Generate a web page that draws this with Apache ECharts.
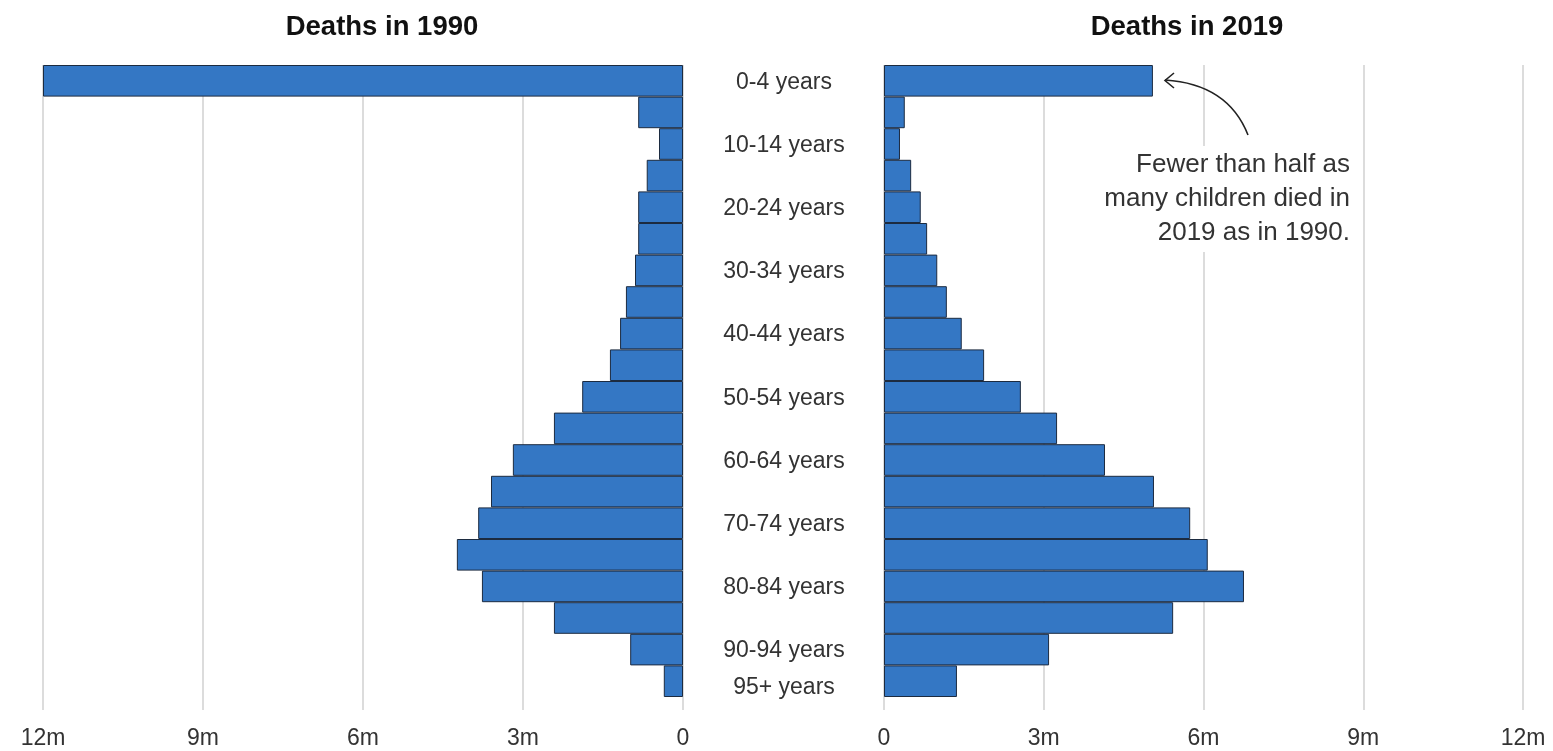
<!DOCTYPE html>
<html>
<head>
<meta charset="utf-8">
<script src="https://cdn.jsdelivr.net/npm/echarts@6/dist/echarts.min.js"></script>
<style>
html,body{margin:0;padding:0;background:#fff;}
#chart{width:1553px;height:751px;}
</style>
</head>
<body>
<div id="chart"></div>
<script>
const ageGroups = ['0-4 years','5-9 years','10-14 years','15-19 years','20-24 years','25-29 years','30-34 years','35-39 years','40-44 years','45-49 years','50-54 years','55-59 years','60-64 years','65-69 years','70-74 years','75-79 years','80-84 years','85-89 years','90-94 years','95+ years'];
const deaths1990 = [12.0,0.84,0.45,0.68,0.84,0.84,0.90,1.07,1.18,1.37,1.89,2.42,3.19,3.60,3.84,4.24,3.77,2.42,0.99,0.36];
const deaths2019 = [5.05,0.39,0.30,0.51,0.69,0.81,1.00,1.18,1.46,1.88,2.57,3.25,4.15,5.07,5.75,6.08,6.76,5.43,3.10,1.37];
const axisTicks = [0,3,6,9,12];
const title1990 = 'Deaths in 1990';
const title2019 = 'Deaths in 2019';
const noteText = 'Fewer than half as\nmany children died in\n2019 as in 1990.';

const FONT = '"Liberation Sans", Arial, Helvetica, sans-serif';
const BAR = '#3477c4';
const EDGE = '#1c2b40';
const tickStep = axisTicks[1] - axisTicks[0];
const tickMax = axisTicks[axisTicks.length - 1];

const chart = echarts.init(document.getElementById('chart'), null, {renderer:'canvas'});

function valueAxis(gridIndex, inverse, showLines) {
  return {
    type:'value', gridIndex, inverse, min:0, max:tickMax, interval:tickStep,
    axisLine:{show:false}, axisTick:{show:false},
    splitLine:{show:showLines, lineStyle:{color:'#dcdcdc', width:2}},
    axisLabel:{show:showLines, color:'#333', fontFamily:FONT, fontSize:23, margin:17,
      showMinLabel:true, showMaxLabel:true,
      formatter:v => v === 0 ? '0' : v + 'm'}
  };
}

const option = {
  backgroundColor:'#fff',
  animation:false,
  title:[
    {text:title1990, left:377, top:8, textAlign:'center',
     textStyle:{fontFamily:FONT, fontSize:27.5, fontWeight:'bold', color:'#111'}},
    {text:title2019, left:1182, top:8, textAlign:'center',
     textStyle:{fontFamily:FONT, fontSize:27.5, fontWeight:'bold', color:'#111'}}
  ],
  grid:[
    {left:43, width:640, top:65, height:632},
    {left:884, width:639, top:65, height:632},
    {left:43, width:640, top:65, height:645},
    {left:884, width:639, top:65, height:645}
  ],
  xAxis:[
    valueAxis(0, true, false),
    valueAxis(1, false, false),
    valueAxis(2, true, true),
    valueAxis(3, false, true)
  ],
  yAxis:[
    {type:'category', gridIndex:0, data:ageGroups, inverse:true, position:'right',
     axisLine:{show:false}, axisTick:{show:false}, splitLine:{show:false},
     axisLabel:{margin:101, align:'center', color:'#333', fontFamily:FONT, fontSize:23,
       interval:(i) => i % 2 === 0 || i === ageGroups.length - 1,
       formatter:(v, i) => i === ageGroups.length - 1 ? '{low|' + v + '}' : '{n|' + v + '}',
       rich:{
         n:{padding:[3,0,0,0], color:'#333', fontFamily:FONT, fontSize:23},
         low:{padding:[12,0,0,0], color:'#333', fontFamily:FONT, fontSize:23}}}},
    {type:'category', gridIndex:1, data:ageGroups, inverse:true,
     axisLine:{show:false}, axisTick:{show:false}, axisLabel:{show:false}, splitLine:{show:false}},
    {type:'value', gridIndex:2, show:false, min:0, max:1},
    {type:'value', gridIndex:3, show:false, min:0, max:1}
  ],
  series:[
    {type:'bar', xAxisIndex:0, yAxisIndex:0, data:deaths1990, barCategoryGap:'0%',
     itemStyle:{color:BAR, borderColor:EDGE, borderWidth:1}, z:3},
    {type:'bar', xAxisIndex:1, yAxisIndex:1, data:deaths2019, barCategoryGap:'0%',
     itemStyle:{color:BAR, borderColor:EDGE, borderWidth:1}, z:3}
  ],
  graphic:[
    {type:'text', right:1553-1352, top:146, z:10,
     style:{text:noteText, font:'26px ' + FONT, fill:'#333', textAlign:'right', lineHeight:34,
            backgroundColor:'#fff', padding:[2,2,2,2]}},
    {type:'bezierCurve', shape:{x1:1248, y1:135, cpx1:1228, cpy1:84, x2:1165, y2:80}, z:11,
     style:{stroke:'#222', lineWidth:1.6, fill:null}},
    {type:'polyline', shape:{points:[[1174,73],[1165,80.5],[1174,88]]}, z:11,
     style:{stroke:'#222', lineWidth:1.6, fill:null}}
  ]
};
chart.setOption(option);
</script>
</body>
</html>
